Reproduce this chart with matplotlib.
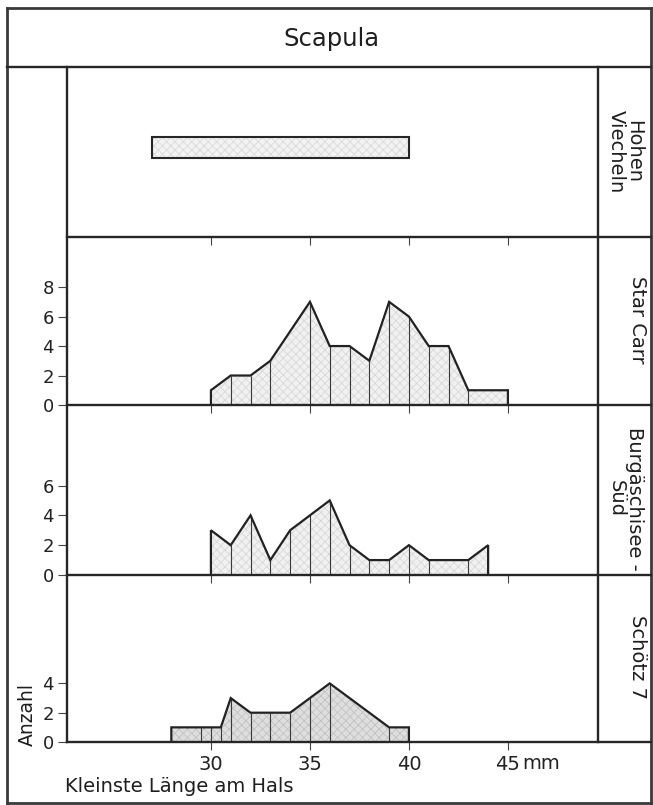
import matplotlib
matplotlib.use("Agg")
import matplotlib.pyplot as plt
from matplotlib.lines import Line2D

plt.rcParams['font.family'] = ['DejaVu Sans']
plt.rcParams['hatch.linewidth'] = 0.6

# ---- data -------------------------------------------------------------
title = "Scapula"
x_label = "Kleinste Länge am Hals"
y_label = "Anzahl"
x_ticks = [30, 35, 40, 45]
x_tick_labels = ["30", "35", "40", "45"]
x_unit = "mm"

site_labels = ["Hohen\nViecheln", "Star Carr", "Burgäschisee -\nSüd", "Schötz 7"]

# Hohen Viecheln: only the range of measurements (mm)
hohen_range = [27, 40]

# Star Carr
star_x = [30, 31, 32, 33, 35, 36, 37, 38, 39, 40, 41, 42, 43, 45]
star_n = [1, 2, 2, 3, 7, 4, 4, 3, 7, 6, 4, 4, 1, 1]
star_yticks = [0, 2, 4, 6, 8]

# Burgäschisee-Süd
burg_x = [30, 31, 32, 33, 34, 35, 36, 37, 38, 39, 40, 41, 43, 44]
burg_n = [3, 2, 4, 1, 3, 4, 5, 2, 1, 1, 2, 1, 1, 2]
burg_yticks = [0, 2, 4, 6]

# Schötz 7
schoetz_x = [28, 29.5, 30, 30.5, 31, 32, 33, 34, 35, 36, 39, 40]
schoetz_n = [1, 1, 1, 1, 3, 2, 2, 2, 3, 4, 1, 1]
schoetz_yticks = [0, 2, 4]

# ---- layout helpers (pixel geometry of the 653 x 805 canvas) ----------
W, H = 653, 805
fig = plt.figure(figsize=(W / 100, H / 100), dpi=100)

def fx(x):
    return x / W

def fy(y):
    return 1 - y / H

def rect(x0, y0, x1, y1):
    return [fx(x0), fy(y1), (x1 - x0) / W, (y1 - y0) / H]

def hline(y, x0, x1, lw=1.7, color='#262626'):
    fig.add_artist(Line2D([fx(x0), fx(x1)], [fy(y), fy(y)], lw=lw, color=color,
                          solid_capstyle='projecting'))

def vline(x, y0, y1, lw=1.7, color='#262626'):
    fig.add_artist(Line2D([fx(x), fx(x)], [fy(y0), fy(y1)], lw=lw, color=color,
                          solid_capstyle='projecting'))

LEFT, RIGHT_AX, RIGHT = 67, 598, 651
TOP, TITLE_Y, BOTTOM = 8, 67, 803
ROWS = [67, 237, 405, 575, 742]
XLIM = (22.73, 49.55)
YLIM = (0, 11.4)

# outer frame and grid lines
hline(TOP, 7, RIGHT, lw=2.0, color='#3a3a3a')
hline(BOTTOM, 7, RIGHT, lw=2.0, color='#3a3a3a')
vline(7, TOP, BOTTOM, lw=2.0, color='#3a3a3a')
vline(RIGHT, TOP, BOTTOM, lw=2.0, color='#3a3a3a')
hline(TITLE_Y, 7, RIGHT)
for y in ROWS[1:]:
    hline(y, LEFT, RIGHT)
vline(LEFT, TITLE_Y, ROWS[-1])
vline(RIGHT_AX, TITLE_Y, ROWS[-1])

# ---- panels -------------------------------------------------------------
axes = []
for i in range(4):
    ax = fig.add_axes(rect(LEFT, ROWS[i], RIGHT_AX, ROWS[i + 1]))
    ax.set_xlim(*XLIM)
    for s in ax.spines.values():
        s.set_visible(False)
    ax.patch.set_visible(False)
    ax.set_xticks(x_ticks)
    ax.tick_params(axis='x', direction='out', length=6, width=0.8, color='#444444',
                   labelbottom=False, pad=4)
    axes.append(ax)

ax_hv, ax_sc, ax_bs, ax_s7 = axes

# Hohen Viecheln range bar
ax_hv.set_ylim(0, 1)
ax_hv.set_yticks([])
ax_hv.barh(0.5265, hohen_range[1] - hohen_range[0], left=hohen_range[0], height=0.124,
           facecolor='#f2f2f2', edgecolor='#dadada', hatch='xxxx', linewidth=0, zorder=1)
ax_hv.barh(0.5265, hohen_range[1] - hohen_range[0], left=hohen_range[0], height=0.124,
           facecolor='none', edgecolor='#262626', linewidth=1.5, zorder=2)


def draw_hist(ax, xs, ns, yticks, face, hatchc):
    ax.set_ylim(*YLIM)
    ax.fill_between(xs, 0, ns, facecolor=face, edgecolor=hatchc, hatch='xxxx',
                    linewidth=0, zorder=1)
    ax.vlines(xs[1:-1], 0, ns[1:-1], colors='#3a3a3a', linewidth=0.8, zorder=2)
    ox = [xs[0]] + list(xs) + [xs[-1]]
    oy = [0] + list(ns) + [0]
    ax.plot(ox, oy, color='#222222', lw=1.6, solid_joinstyle='miter', zorder=3)
    ax.set_yticks(yticks)
    ax.set_yticklabels([str(t) for t in yticks])
    ax.tick_params(axis='y', direction='out', length=6.5, width=0.8, color='#444444',
                   labelsize=13, labelcolor='#222222', pad=3)


draw_hist(ax_sc, star_x, star_n, star_yticks, '#f1f1f1', '#d8d8d8')
draw_hist(ax_bs, burg_x, burg_n, burg_yticks, '#f1f1f1', '#d8d8d8')
draw_hist(ax_s7, schoetz_x, schoetz_n, schoetz_yticks, '#dedede', '#c2c2c2')

ax_s7.set_xticklabels(x_tick_labels)
ax_s7.tick_params(axis='x', labelbottom=True, labelsize=14, labelcolor='#222222', pad=3)
ax_s7.annotate(x_unit, xy=(x_ticks[-1], 0), xycoords='data', xytext=(10.5, -15.5),
               textcoords='offset points', ha='left', va='center', fontsize=14,
               color='#222222')

# ---- texts --------------------------------------------------------------
fig.text(fx(331), fy(39), title, ha='center', va='center', fontsize=17.5, color='#1e1e1e')

label_pos = [(625, 151.5), (637, 319.5), (625.5, 498.5), (638, 657)]
for (x, y), lab in zip(label_pos, site_labels):
    fig.text(fx(x), fy(y), lab, rotation=-90, ha='center', va='center',
             multialignment='center', fontsize=14, color='#1e1e1e', linespacing=0.95)

fig.text(fx(27.5), fy(714), y_label, rotation=90, ha='center', va='center',
         fontsize=13.5, color='#1e1e1e')
fig.text(fx(65), fy(786), x_label, ha='left', va='center', fontsize=14, color='#1e1e1e')

fig.savefig("out.png", dpi=100, facecolor='white')
